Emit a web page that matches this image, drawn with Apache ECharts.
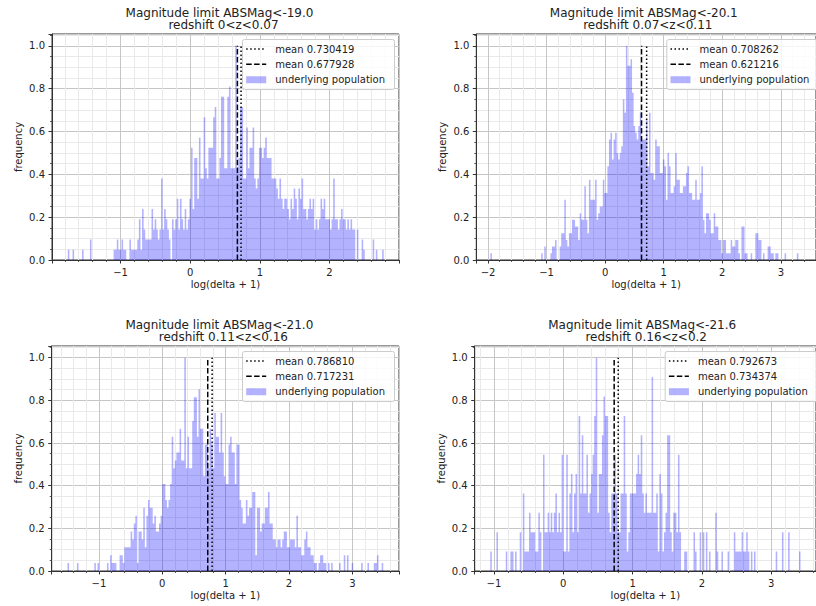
<!DOCTYPE html>
<html>
<head>
<meta charset="utf-8">
<script src="https://cdn.jsdelivr.net/npm/echarts@6/dist/echarts.min.js"></script>
<style>
  html, body { margin: 0; padding: 0; background: #ffffff; }
  #chart { width: 816px; height: 606px; }
</style>
</head>
<body>
<div id="chart"></div>
<script>
// ---- data ---------------------------------------------------------------
const panelTitles = [
  ['Magnitude limit ABSMag<-19.0', 'redshift 0<z<0.07'],
  ['Magnitude limit ABSMag<-20.1', 'redshift 0.07<z<0.11'],
  ['Magnitude limit ABSMag<-21.0', 'redshift 0.11<z<0.16'],
  ['Magnitude limit ABSMag<-21.6', 'redshift 0.16<z<0.2']
];
const xAxisTitle = 'log(delta + 1)';
const yAxisTitle = 'frequency';
const populationName = 'underlying population';

const meanDotted = [0.730419, 0.708262, 0.786810, 0.792673];
const meanDashed = [0.677928, 0.621216, 0.717231, 0.734374];

// histogram bins: left edge of first bin, bin width, count of the tallest bin
const binStart = [-1.757, -1.96, -1.497, -1.053];
const binWidth = [0.022677, 0.0263, 0.024925, 0.022374];
const peakCount = [21, 32, 27, 11];

const counts1 = [
  1,0,0,1,0,0,0,0,0,1, 0,0,0,0,2,0,0,0,0,0, 0,0,0,0,0,0,0,0,0,1, 1,2,1,1,2,1,1,0,0,2,
  1,1,1,1,2,4,1,5,3,2, 2,2,2,5,3,4,3,2,3,8, 3,5,4,3,2,0,4,3,4,6, 3,6,4,3,5,3,4,6,11,5,
  10,10,6,12,8,8,14,9,8,11, 11,11,14,15,8,8,10,16,16,9, 9,16,17,9,9,9,21,9,10,15, 15,8,8,13,9,11,11,13,8,7,
  8,11,11,10,11,12,10,10,10,8, 8,8,7,6,8,6,5,6,6,5, 4,6,5,7,6,4,7,6,8,5, 5,4,5,6,5,6,3,4,3,4,
  6,5,6,4,4,4,3,4,8,4, 4,3,4,5,4,4,3,4,3,4, 3,3,0,3,0,0,2,1,0,0, 0,0,0,2,0,1,0,0,0,1
];
const counts2 = [
  1,0,0,0,0,0,0,0,0,0, 0,0,0,0,0,0,0,0,0,0, 0,0,0,0,0,0,0,0,0,0, 0,0,0,1,0,2,0,0,0,1,
  2,2,3,0,0,2,4,4,9,3, 2,4,4,6,6,5,5,3,7,6, 6,11,6,4,12,9,9,9,12,6, 7,8,8,12,10,10,14,18,19,15,
  18,19,16,15,16,17,24,22,32,29, 29,30,25,20,19,18,20,22,18,18, 18,21,14,22,13,13,12,18,17,17, 13,13,15,14,9,16,14,10,10,11,
  16,12,12,10,10,11,11,13,14,10, 10,9,9,12,9,9,10,14,6,4, 7,7,6,4,4,7,5,5,3,3, 1,3,3,1,1,1,3,2,2,3,
  3,1,0,5,5,1,1,0,0,1, 0,0,4,4,3,3,0,1,0,0, 2,2,1,1,0,1,1,0,0,0, 0,1,0,0,0,0,0,0,0,1
];
const counts3 = [
  1,0,0,0,0,0,1,0,0,0, 0,0,0,0,0,0,0,1,0,1, 0,0,0,0,0,1,0,2,1,1, 1,0,0,2,2,1,3,3,3,3,
  5,4,6,7,1,5,5,4,8,3, 7,9,8,8,6,7,5,5,6,7, 11,11,9,8,9,11,17,13,14,15, 15,18,14,14,27,13,17,13,13,19,
  22,22,17,23,18,18,12,16,16,13, 18,16,13,20,17,17,15,20,15,12, 11,11,16,17,15,15,11,16,16,9, 8,6,6,9,7,8,8,10,10,2,
  8,8,5,6,6,8,8,10,6,6, 4,4,3,4,4,3,4,5,5,3, 3,4,4,4,3,7,3,3,2,2, 4,5,3,3,2,2,1,1,0,1,
  2,2,1,1,0,1,0,1,0,0, 0,0,1,0,0,2,0,2,0,0, 1,0,0,0,0,0,1,0,0,0, 1,0,0,0,1,1,2,0,0,1
];
const counts4 = [
  1,0,0,0,2,0,0,0,0,0, 1,0,0,1,1,0,1,0,0,2, 0,4,1,1,1,3,2,2,2,1, 1,3,2,0,6,2,2,3,2,3,
  2,3,4,2,3,2,6,1,1,6, 1,4,5,2,4,5,2,8,4,7, 4,4,6,3,4,5,6,8,11,3, 5,5,7,9,8,8,3,2,4,4,
  6,4,2,2,4,4,8,4,1,2, 4,4,4,4,5,6,5,7,4,3, 4,3,3,3,10,3,3,4,1,5, 4,1,2,3,7,7,2,1,3,3,
  2,6,2,0,0,1,1,0,0,0, 0,2,1,0,0,2,0,2,0,2, 0,1,0,0,0,3,1,0,0,1, 0,0,0,1,0,0,0,2,1,1,
  1,1,2,1,1,2,1,0,1,0, 1,0,0,0,0,0,0,0,0,0, 0,0,0,0,1,0,0,0,2,0, 0,0,2,0,0,0,0,0,0,1
];
const allCounts = [counts1, counts2, counts3, counts4];

// ---- layout -------------------------------------------------------------
const panels = [
  { left: 52,    top: 34,  width: 347,   height: 226, xMin: -1.984, xMax: 2.998 },
  { left: 476.3, top: 34,  width: 347,   height: 226, xMin: -2.20,  xMax: 3.60  },
  { left: 51.7,  top: 346, width: 347.3, height: 225, xMin: -1.746, xMax: 3.737 },
  { left: 474.7, top: 346, width: 347,   height: 225, xMin: -1.277, xMax: 3.645 }
];
const yMax = 1.055;
const FONT = '"DejaVu Sans", "Liberation Sans", sans-serif';
const INK = '#222222';
const SPINE = '#333333';
const BAR = 'rgba(0, 0, 255, 0.3)';
const LEGEND_Z = 100;

const minus = s => String(s).replace('-', '\u2212');

// step outline of a histogram: one point at each bin's left edge, plus the closing edge
function histogramPoints(k) {
  const c = allCounts[k];
  const pts = c.map((n, i) => [binStart[k] + i * binWidth[k], n / peakCount[k]]);
  pts.push([binStart[k] + c.length * binWidth[k], c[c.length - 1] / peakCount[k]]);
  return pts;
}

const grids = [], xAxes = [], yAxes = [], series = [], graphics = [];

panels.forEach((p, k) => {
  grids.push({
    left: p.left, top: p.top, width: p.width, height: p.height,
    show: true, borderColor: SPINE, borderWidth: 1, backgroundColor: 'transparent'
  });

  xAxes.push({
    type: 'value', gridIndex: k, min: p.xMin, max: p.xMax, splitNumber: 5,
    axisLine: { show: true, onZero: false, lineStyle: { color: SPINE, width: 1 } },
    axisTick: { show: true, inside: false, length: 3.5, lineStyle: { color: SPINE, width: 1 } },
    minorTick: { show: true, splitNumber: 5, length: 2, lineStyle: { color: SPINE, width: 0.8 } },
    splitLine: { show: true, lineStyle: { color: '#c6c6c6', width: 1 } },
    minorSplitLine: { show: true, lineStyle: { color: '#e9e9e9', width: 1 } },
    axisLabel: {
      showMinLabel: false, showMaxLabel: false, margin: 7,
      fontSize: 10, fontFamily: FONT, color: INK,
      formatter: v => minus(v)
    },
    name: xAxisTitle, nameLocation: 'middle', nameGap: 19,
    nameTextStyle: { fontSize: 10, fontFamily: FONT, color: INK }
  });

  yAxes.push({
    type: 'value', gridIndex: k, min: 0, max: yMax, splitNumber: 5,
    axisLine: { show: true, onZero: false, lineStyle: { color: SPINE, width: 1 } },
    axisTick: { show: true, inside: false, length: 3.5, lineStyle: { color: SPINE, width: 1 } },
    minorTick: { show: true, splitNumber: 4, length: 2, lineStyle: { color: SPINE, width: 0.8 } },
    splitLine: { show: true, lineStyle: { color: '#c6c6c6', width: 1 } },
    minorSplitLine: { show: true, lineStyle: { color: '#e9e9e9', width: 1 } },
    axisLabel: {
      showMaxLabel: false, margin: 7,
      fontSize: 10, fontFamily: FONT, color: INK,
      formatter: v => v.toFixed(1)
    },
    name: yAxisTitle, nameLocation: 'middle', nameGap: 28.5, nameRotate: 90,
    nameTextStyle: { fontSize: 10, fontFamily: FONT, color: INK }
  });

  series.push({
    name: populationName, type: 'line', xAxisIndex: k, yAxisIndex: k,
    step: 'end', symbol: 'none', silent: true, z: 2,
    lineStyle: { width: 0, opacity: 0 },
    areaStyle: { color: BAR, opacity: 1 },
    data: histogramPoints(k)
  });
  series.push({
    name: 'mean ' + meanDotted[k].toFixed(6), type: 'line', xAxisIndex: k, yAxisIndex: k,
    symbol: 'none', silent: true, z: 4,
    lineStyle: { color: '#000000', width: 1.5, type: [1.5, 2.5] },
    data: [[meanDotted[k], 0], [meanDotted[k], 1]]
  });
  series.push({
    name: 'mean ' + meanDashed[k].toFixed(6), type: 'line', xAxisIndex: k, yAxisIndex: k,
    symbol: 'none', silent: true, z: 4,
    lineStyle: { color: '#000000', width: 1.5, type: [5.5, 2.4] },
    data: [[meanDashed[k], 0], [meanDashed[k], 1]]
  });

  // two-line title above each panel
  const cx = p.left + p.width / 2;
  graphics.push({
    type: 'text', x: cx - 6, y: p.top - 21.4, silent: true,
    style: { text: panelTitles[k][0], fontSize: 12, fontFamily: FONT, fill: INK, align: 'center', verticalAlign: 'middle' }
  });
  graphics.push({
    type: 'text', x: cx - 2, y: p.top - 8.6, silent: true,
    style: { text: panelTitles[k][1], fontSize: 12, fontFamily: FONT, fill: INK, align: 'center', verticalAlign: 'middle' }
  });

  // legend box in the upper right corner of each panel
  const bx = p.left + p.width - 156.5;
  const by = p.top + 5.5;
  const rows = [9.5, 24.8, 40.2];
  const legendText = ['mean ' + meanDotted[k].toFixed(6), 'mean ' + meanDashed[k].toFixed(6), populationName];
  graphics.push({
    type: 'group', x: bx, y: by, silent: true, z: LEGEND_Z,
    children: [
      { type: 'rect', z: LEGEND_Z, shape: { x: 0, y: 0, width: 152, height: 50, r: 2 },
        style: { fill: 'rgba(255,255,255,0.8)', stroke: '#cccccc', lineWidth: 1 } },
      { type: 'line', z: LEGEND_Z + 1, shape: { x1: 3.7, y1: rows[0], x2: 23.7, y2: rows[0] },
        style: { stroke: '#000000', lineWidth: 1.5, lineDash: [1.5, 2.5] } },
      { type: 'line', z: LEGEND_Z + 1, shape: { x1: 3.7, y1: rows[1], x2: 23.7, y2: rows[1] },
        style: { stroke: '#000000', lineWidth: 1.5, lineDash: [5.5, 2.4] } },
      { type: 'rect', z: LEGEND_Z + 1, shape: { x: 3.7, y: rows[2] - 3.5, width: 20, height: 7 },
        style: { fill: BAR } }
    ].concat(legendText.map((t, r) => ({
      type: 'text', z: LEGEND_Z + 1, x: 32.7, y: rows[r],
      style: { text: t, fontSize: 10, fontFamily: FONT, fill: INK, verticalAlign: 'middle' }
    })))
  });
});

const chart = echarts.init(document.getElementById('chart'), null, { renderer: 'svg' });
chart.setOption({
  backgroundColor: '#ffffff',
  animation: false,
  grid: grids,
  xAxis: xAxes,
  yAxis: yAxes,
  series: series,
  graphic: graphics
});
</script>
</body>
</html>
